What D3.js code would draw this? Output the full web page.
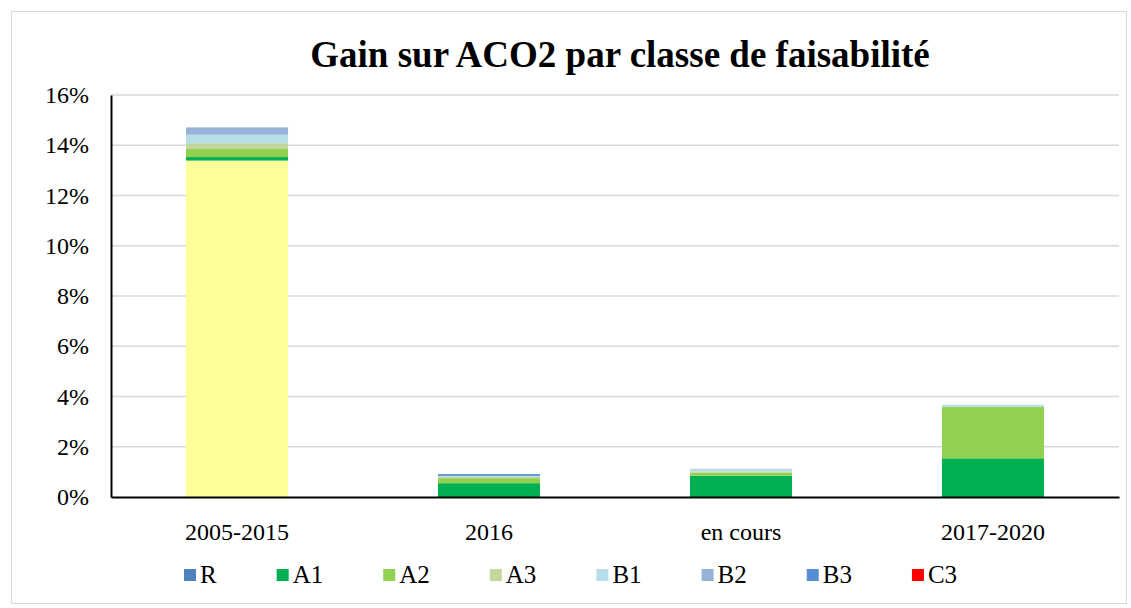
<!DOCTYPE html>
<html><head><meta charset="utf-8">
<script src="https://cdn.jsdelivr.net/npm/d3@7"></script>
<style>body{margin:0;background:#fff}svg{display:block}</style>
</head><body>
<svg id="c" width="1131" height="608"></svg>
<script>
const categories = ["2005-2015", "2016", "en cours", "2017-2020"];
const seriesNames = ["R", "A1", "A2", "A3", "B1", "B2", "B3", "C3"];
const R  = [13.39, 0, 0, 0];
const A1 = [0.14, 0.55, 0.85, 1.54];
const A2 = [0.32, 0.20, 0.12, 2.05];
const A3 = [0.23, 0.05, 0.05, 0];
const B1 = [0.34, 0.04, 0.08, 0.08];
const B2 = [0.29, 0, 0.02, 0];
const B3 = [0, 0.07, 0, 0];
const C3 = [0, 0, 0, 0];
const yTicks = [0, 2, 4, 6, 8, 10, 12, 14, 16];
const colors = {R:"#4F81BD", A1:"#00B050", A2:"#92D050", A3:"#C3D69B", B1:"#B7DDE8", B2:"#95B3D7", B3:"#558ED5", C3:"#FF0000"};
const pointOverride = {"R|2005-2015": "#FFFF99"};

const seriesVals = {R, A1, A2, A3, B1, B2, B3, C3};
const table = categories.map((c, i) => {
  const o = {cat: c};
  seriesNames.forEach(s => o[s] = seriesVals[s][i]);
  return o;
});

const svg = d3.select("#c");
const font = "'Liberation Serif','Times New Roman',serif";
svg.append("rect").attr("x", 11.5).attr("y", 11.5).attr("width", 1115).attr("height", 592)
  .attr("fill", "#fff").attr("stroke", "#d9d9d9");

const m = {l: 111, r: 1119, t: 95, b: 497};
const x = d3.scaleBand().domain(categories).range([m.l, m.r]).paddingInner(0.595).paddingOuter(0.2975);
const y = d3.scaleLinear().domain([0, 16]).range([m.b, m.t]);

svg.append("text").attr("x", 620).attr("y", 67).attr("text-anchor", "middle")
  .attr("font-family", font).attr("font-weight", "bold").attr("font-size", 37)
  .text("Gain sur ACO2 par classe de faisabilité");

// grid
svg.append("g").selectAll("line").data(yTicks.filter(d => d > 0)).join("line")
  .attr("x1", m.l).attr("x2", m.r).attr("y1", d => y(d)).attr("y2", d => y(d))
  .attr("stroke", "#d9d9d9").attr("stroke-width", 1.5);

const stack = d3.stack().keys(seriesNames)(table);
svg.append("g").selectAll("g").data(stack).join("g")
  .selectAll("rect").data(s => s.map(d => ({s: s.key, d}))).join("rect")
  .attr("x", o => x(o.d.data.cat)).attr("width", x.bandwidth())
  .attr("y", o => y(o.d[1])).attr("height", o => Math.max(0, y(o.d[0]) - y(o.d[1])))
  .attr("fill", o => pointOverride[o.s + "|" + o.d.data.cat] || colors[o.s]);

// axes
const ya = d3.axisLeft(y).tickValues(yTicks).tickSize(0).tickPadding(22).tickFormat(d => d + "%");
const gy = svg.append("g").attr("transform", `translate(${m.l},0)`).call(ya);
gy.select(".domain").attr("stroke", "#000").attr("stroke-width", 2);
gy.selectAll("text").attr("font-family", font).attr("font-size", 24).attr("fill", "#000");

const xa = d3.axisBottom(x).tickSize(0).tickPadding(26);
const gx = svg.append("g").attr("transform", `translate(0,${m.b})`).call(xa);
gx.select(".domain").attr("stroke", "#000").attr("stroke-width", 2);
gx.selectAll("text").attr("font-family", font).attr("font-size", 24).attr("fill", "#000");

// legend
const legend = svg.append("g");
let lx = 184;
seriesNames.forEach(s => {
  const g = legend.append("g").attr("transform", `translate(${lx},569)`);
  g.append("rect").attr("width", 12).attr("height", 12).attr("fill", colors[s]);
  const t = g.append("text").attr("x", 16).attr("y", 14).attr("font-family", font).attr("font-size", 25)
    .attr("fill", "#000").text(s);
  lx += 16 + t.node().getComputedTextLength() + 60;
});
</script>
</body></html>
